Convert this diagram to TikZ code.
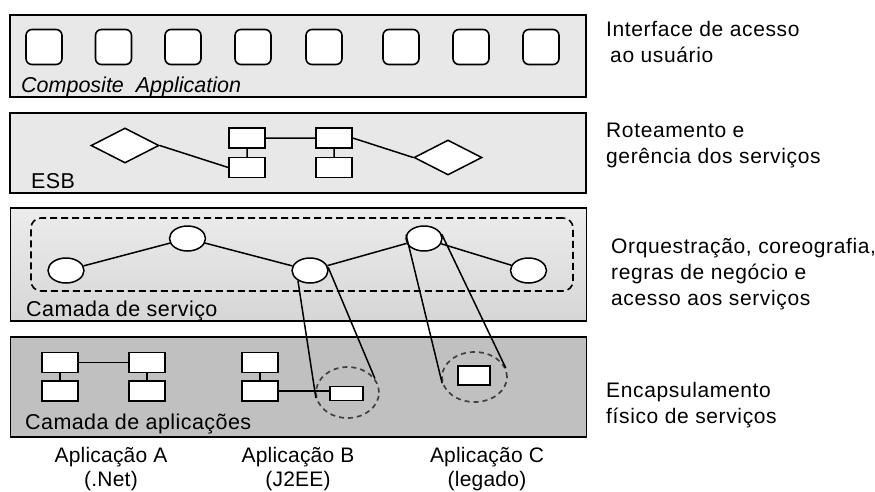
\documentclass[tikz,border=0pt]{standalone}
\usepackage{fontspec}
\setmainfont{Liberation Sans}
\usetikzlibrary{shapes.geometric}
\definecolor{layerlight}{HTML}{E8E8E8}
\definecolor{layerdark}{HTML}{C0C0C0}

\begin{document}
\begin{tikzpicture}[x=1pt,y=-1pt,font=\fontsize{21}{26}\selectfont,
  layer/.style={draw,line width=1.7pt,inner sep=0pt,minimum width=576pt},
  uibox/.style={draw,fill=white,line width=1.6pt,rounded corners=6pt,minimum width=36pt,minimum height=35pt,inner sep=0pt},
  comp/.style={draw,fill=white,line width=1.5pt,minimum width=36pt,minimum height=20pt,inner sep=0pt},
  route/.style={diamond,draw,fill=white,line width=1.5pt,minimum width=68pt,minimum height=35pt,inner sep=0pt},
  svc/.style={ellipse,draw,fill=white,line width=1.5pt,minimum width=36pt,minimum height=25pt,inner sep=0pt},
  wrap/.style={ellipse,draw=black!75,dash pattern=on 5pt off 4pt,line width=1.7pt,inner sep=0pt},
  link/.style={line width=1.5pt},
  tag/.style={anchor=base west,inner sep=0pt,font=\fontsize{21.5}{26}\selectfont\addfontfeature{LetterSpace=2}},
  note/.style={anchor=base west,align=left,inner sep=0pt,font=\fontsize{21}{26}\selectfont\addfontfeature{LetterSpace=3}},
  appname/.style={anchor=base,align=center,inner sep=0pt,font=\fontsize{21}{24}\selectfont\addfontfeature{LetterSpace=1}}
]
\useasboundingbox (0,0) rectangle (875,491);

% layers
\node[layer,fill=layerlight,minimum height=82pt] (ui) at (298,56) {};
\node[layer,fill=layerlight,minimum height=80pt] (esb) at (298,153) {};
\node[layer,top color=gray!15,bottom color=gray!32,minimum height=113pt] (svcl) at (298.5,264.5) {};
\node[layer,fill=layerdark,minimum height=100pt] (apps) at (298.5,387) {};

% composite application
\foreach \x [count=\i] in {44,113.5,183,253,324,401,471,541}
  \node[uibox] (u\i) at (\x,47) {};
\node[tag,font=\fontsize{21.5}{26}\selectfont\itshape] (uitag) at (21,92) {Composite\ \ Application};

% ESB
\node[route] (rl) at (125,145.5) {};
\node[comp] (r1t) at (247,138) {};
\node[comp] (r1b) at (247,167.5) {};
\node[comp] (r2t) at (334,138) {};
\node[comp] (r2b) at (334,167.5) {};
\node[route] (rr) at (448,157.5) {};
\draw[link] (rl.east) -- (r1b.west) (r1t) -- (r1b) (r1t) -- (r2t) (r2t) -- (r2b) (r2t.east) -- (rr.west);
\node[tag] (esbtag) at (31,188) {ESB};

% service layer
\node[draw,dash pattern=on 7pt off 4pt,line width=1.6pt,rounded corners=10pt,minimum width=542pt,minimum height=73pt] (orch) at (302,254.5) {};
\node[svc] (s1) at (66,270.5) {};
\node[svc] (s2) at (187.5,238.5) {};
\node[svc] (s3) at (310,270.5) {};
\node[svc] (s4) at (424,238.5) {};
\node[svc] (s5) at (528.5,270.5) {};
\draw[link] (s1) -- (s2) -- (s3) -- (s4) -- (s5);
\node[tag] (svctag) at (26,316) {Camada de serviço};

% applications
\node[comp] (a1) at (60,362.5) {};
\node[comp] (a2) at (60,391) {};
\node[comp] (a3) at (147,362.5) {};
\node[comp] (a4) at (147,391) {};
\draw[link] (a1) -- (a3) (a1) -- (a2) (a3) -- (a4);
\node[comp] (b1) at (260,362.5) {};
\node[comp] (b2) at (260,391) {};
\node[wrap,minimum width=63pt,minimum height=51pt] (wb) at (347.5,392.5) {};
\node[wrap,minimum width=65pt,minimum height=50pt] (wc) at (474.5,377) {};
\node[comp,minimum width=33pt,minimum height=14pt] (bs) at (346.5,393.5) {};
\node[comp,minimum width=32pt,minimum height=19pt] (cs) at (474,375.5) {};
\draw[link] (b1) -- (b2) (b2.east) -- (b2.east -| bs.west);
\node[tag] (apptag) at (25,429) {Camada de aplicações};

% projections
\draw[link] (s3.220) -- (wb.190) (s3.10) -- (wb.27) (s4.168) -- (wc.191) (s4.14) -- (wc.16);

% application names
\node[appname] (na) at (111,486) {Aplicação A\\(.Net)};
\node[appname] (nb) at (298,486) {Aplicação B\\(J2EE)};
\node[appname] (nc) at (487,486) {Aplicação C\\(legado)};

% descriptions
\node[note] (n1) at (606,62) {Interface de acesso\\\hspace{4pt}ao usuário};
\node[note] (n2) at (606,163) {Roteamento e\\gerência dos serviços};
\node[note] (n3) at (611,305) {Orquestração, coreografia,\\regras de negócio e\\acesso aos serviços};
\node[note] (n4) at (606,423) {Encapsulamento\\físico de serviços};
\end{tikzpicture}
\end{document}
